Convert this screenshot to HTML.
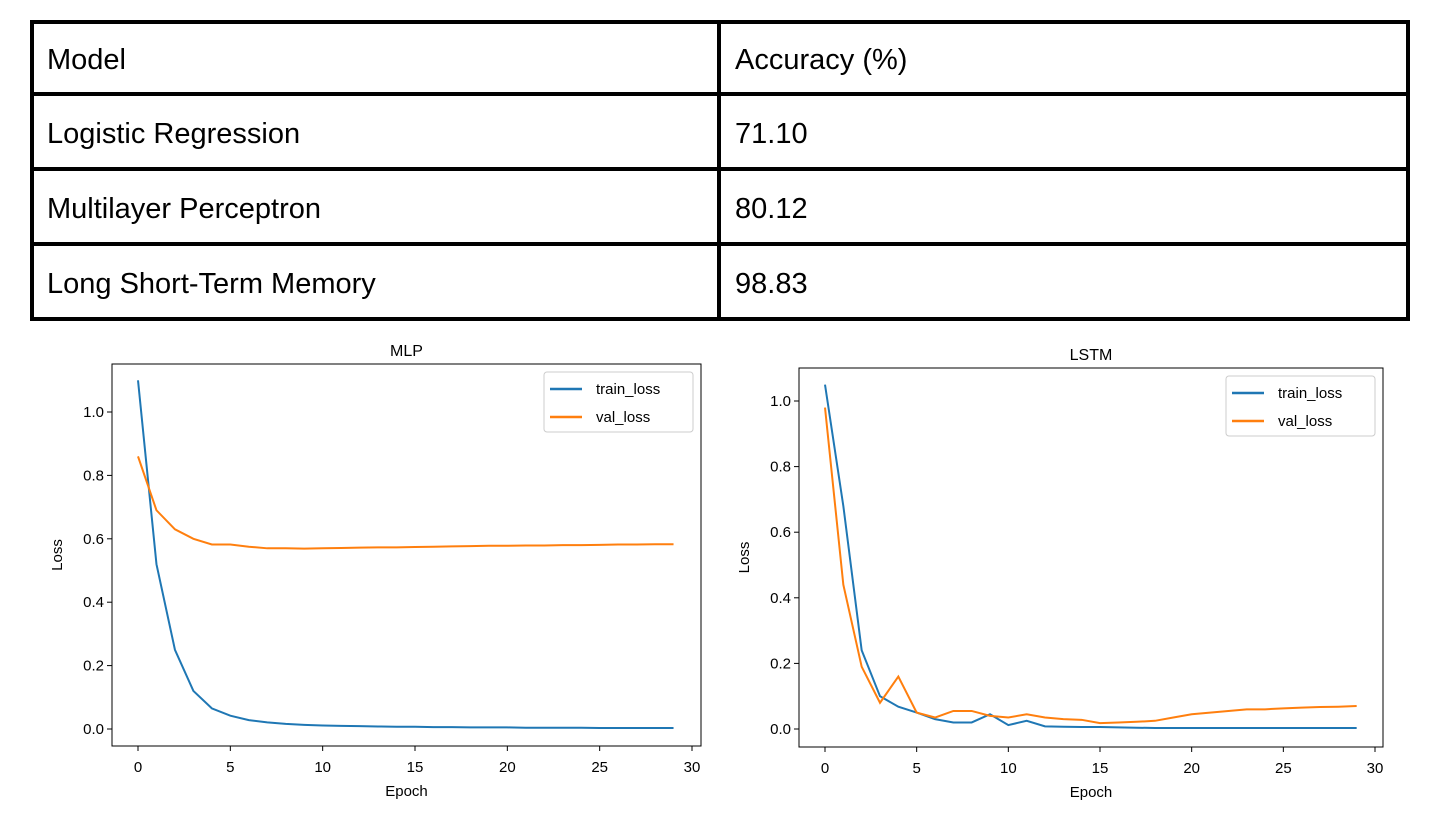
<!DOCTYPE html>
<html><head><meta charset="utf-8"><style>
body{margin:0;width:1444px;height:826px;background:#fff;overflow:hidden;position:relative;font-family:"Liberation Sans",sans-serif}
.hl{position:absolute;background:#000}
.cell{position:absolute;font-size:29px;color:#000;line-height:1}
</style></head><body>
<div>
<div class="hl" style="left:30px;top:20px;width:1380px;height:4px"></div>
<div class="hl" style="left:30px;top:92px;width:1380px;height:4px"></div>
<div class="hl" style="left:30px;top:167px;width:1380px;height:4px"></div>
<div class="hl" style="left:30px;top:242px;width:1380px;height:4px"></div>
<div class="hl" style="left:30px;top:317px;width:1380px;height:4px"></div>
<div class="hl" style="left:30px;top:20px;width:4px;height:301px"></div>
<div class="hl" style="left:717px;top:20px;width:4px;height:301px"></div>
<div class="hl" style="left:1406px;top:20px;width:4px;height:301px"></div>
<div class="cell" style="left:47px;top:46px">Model</div>
<div class="cell" style="left:735px;top:46px">Accuracy (%)</div>
<div class="cell" style="left:47px;top:120px">Logistic Regression</div>
<div class="cell" style="left:735px;top:120px">71.10</div>
<div class="cell" style="left:47px;top:195px">Multilayer Perceptron</div>
<div class="cell" style="left:735px;top:195px">80.12</div>
<div class="cell" style="left:47px;top:270px">Long Short-Term Memory</div>
<div class="cell" style="left:735px;top:270px">98.83</div>
</div>
<svg id="charts" width="1444" height="826" style="position:absolute;left:0;top:0"></svg>
<script>
const xTicks=[0,5,10,15,20,25,30];
const yTicks=[0.0,0.2,0.4,0.6,0.8,1.0];
const yTickLabels=["0.0","0.2","0.4","0.6","0.8","1.0"];
const mlpTrain=[1.10,0.52,0.25,0.12,0.065,0.042,0.028,0.021,0.016,0.013,0.011,0.01,0.009,0.008,0.007,0.007,0.006,0.006,0.005,0.005,0.005,0.004,0.004,0.004,0.004,0.003,0.003,0.003,0.003,0.003];
const mlpVal=[0.86,0.69,0.63,0.60,0.582,0.582,0.575,0.57,0.57,0.569,0.57,0.571,0.572,0.573,0.573,0.574,0.575,0.576,0.577,0.578,0.578,0.579,0.579,0.58,0.58,0.581,0.582,0.582,0.583,0.583];
const lstmTrain=[1.05,0.68,0.24,0.10,0.068,0.05,0.03,0.02,0.02,0.045,0.012,0.025,0.008,0.007,0.006,0.006,0.005,0.004,0.003,0.003,0.003,0.003,0.003,0.003,0.003,0.003,0.003,0.003,0.003,0.003];
const lstmVal=[0.98,0.44,0.19,0.08,0.16,0.05,0.035,0.055,0.055,0.04,0.035,0.045,0.035,0.03,0.028,0.018,0.02,0.022,0.025,0.035,0.045,0.05,0.055,0.06,0.06,0.063,0.065,0.067,0.068,0.07];
const NS="http://www.w3.org/2000/svg";
const svg=document.getElementById('charts');
function mk(tag,attrs,parent){const e=document.createElementNS(NS,tag);for(const k in attrs)e.setAttribute(k,attrs[k]);(parent||svg).appendChild(e);return e;}
function chart(cfg){
  const g=mk('g',{});
  
  
  const xs=v=>cfg.x0+(v-0)*(cfg.x30-cfg.x0)/30;
  const ys=v=>cfg.y0-(v)*(cfg.y0-cfg.y1);
  const t=mk('text',{x:(cfg.L+cfg.R)/2,y:cfg.T-8,'text-anchor':'middle','font-size':16,fill:'#000'},g);t.textContent=cfg.title;
  
  
  xTicks.forEach(v=>{const x=xs(v);mk('line',{x1:x,x2:x,y1:cfg.B,y2:cfg.B+5,stroke:'#000'},g);
    const tx=mk('text',{x:x,y:cfg.B+26,'text-anchor':'middle','font-size':15,fill:'#000'},g);tx.textContent=v;
    
    });
  yTicks.forEach((v,i)=>{const y=ys(v);mk('line',{x1:cfg.L-5,x2:cfg.L,y1:y,y2:y,stroke:'#000'},g);
    const tx=mk('text',{x:cfg.L-8,y:y+5,'text-anchor':'end','font-size':15,fill:'#000'},g);tx.textContent=yTickLabels[i];
    
    });
  const xl=mk('text',{x:(cfg.L+cfg.R)/2,y:cfg.B+50,'text-anchor':'middle','font-size':15,fill:'#000'},g);xl.textContent='Epoch';
  
  
  const yl=mk('text',{x:0,y:0,'text-anchor':'middle','font-size':15,fill:'#000',transform:`translate(${cfg.L-50},${(cfg.T+cfg.B)/2}) rotate(-90)`},g);yl.textContent='Loss';
  
  
  [[cfg.train,'#1f77b4','train-loss-line'],[cfg.val,'#ff7f0e','val-loss-line']].forEach(([d,c,n])=>{
    const p=mk('polyline',{points:d.map((v,i)=>xs(i)+','+ys(v)).join(' '),fill:'none',stroke:c,'stroke-width':2},g);
    
    });
  mk('rect',{x:cfg.L,y:cfg.T,width:cfg.R-cfg.L,height:cfg.B-cfg.T,fill:'none',stroke:'#000','stroke-width':1},g);
  const lg=mk('g',{},g);
  
  
  const lx=cfg.R-8-149,ly=cfg.T+8;
  mk('rect',{x:lx,y:ly,width:149,height:60,rx:3,fill:'#fff',stroke:'#ccc'},lg);
  [['train_loss','#1f77b4'],['val_loss','#ff7f0e']].forEach(([n,c],i)=>{
    const yy=ly+17+i*28;
    mk('line',{x1:lx+6,x2:lx+38,y1:yy,y2:yy,stroke:c,'stroke-width':2.5},lg);
    const tx=mk('text',{x:lx+52,y:yy+5,'font-size':15,fill:'#000'},lg);tx.textContent=n;
    
    });
}
chart({name:'mlp-chart',title:'MLP',L:112,R:701,T:364,B:746,x0:138,x30:692,y0:729,y1:412,train:mlpTrain,val:mlpVal});
chart({name:'lstm-chart',title:'LSTM',L:799,R:1383,T:368,B:747,x0:825,x30:1375,y0:729,y1:401,train:lstmTrain,val:lstmVal});
</script>
</body></html>
